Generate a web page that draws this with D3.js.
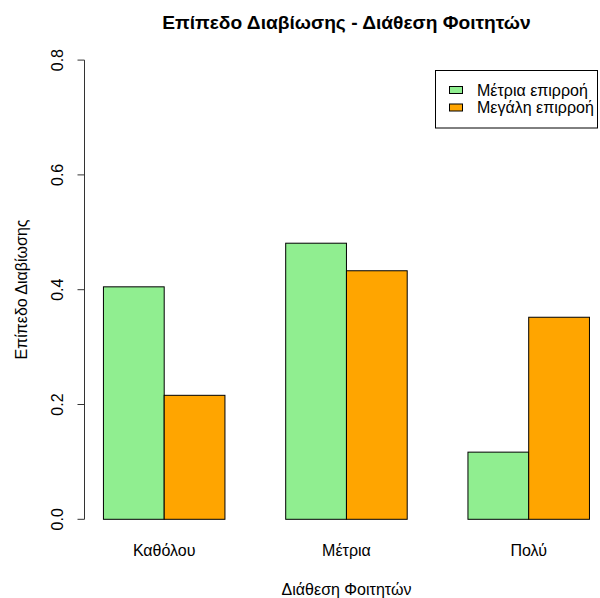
<!DOCTYPE html>
<html><head><meta charset="utf-8">
<script src="https://cdn.jsdelivr.net/npm/d3@7"></script>
<style>body{margin:0;background:#fff}svg{display:block;font-family:"Liberation Sans",Arial,sans-serif}</style>
</head><body>
<svg id="c" width="600" height="598"></svg>
<script>
const categories = ["Καθόλου", "Μέτρια", "Πολύ"];
const seriesNames = ["Μέτρια επιρροή", "Μεγάλη επιρροή"];
const moderate = [0.405, 0.481, 0.117];
const high = [0.216, 0.433, 0.352];
const colors = ["#90EE90", "#FFA500"];
const yTicks = [0, 0.2, 0.4, 0.6, 0.8];
const title = "Επίπεδο Διαβίωσης - Διάθεση Φοιτητών";
const xTitle = "Διάθεση Φοιτητών";
const yTitle = "Επίπεδο Διαβίωσης";

const series = [moderate, high];
const svg = d3.select("#c");
const x = d3.scaleLinear().domain([0.68, 9.32]).range([84, 608.9]);
const y = d3.scaleLinear().domain([0, 0.8]).range([519.3, 60.1]);

const bars = [];
categories.forEach((c, i) => series.forEach((s, j) => bars.push({i, j, v: s[i]})));
svg.append("g").selectAll("rect").data(bars).join("rect")
  .attr("x", d => x(1 + d.i * 3 + d.j))
  .attr("width", d => x(2 + d.i * 3 + d.j) - x(1 + d.i * 3 + d.j))
  .attr("y", d => y(d.v))
  .attr("height", d => y(0) - y(d.v))
  .attr("fill", d => colors[d.j])
  .attr("stroke", "#000").attr("stroke-width", 1);

// y axis
const yAxis = d3.axisLeft(y).tickValues(yTicks).tickFormat(d3.format(".1f")).tickSize(7).tickPadding(0);
const ga = svg.append("g").attr("transform", "translate(84.5,0)").call(yAxis);
ga.select(".domain").attr("stroke", "#333").attr("d", `M0,${y(0)}V${y(0.8)}`);
ga.selectAll(".tick line").attr("stroke", "#333");
ga.selectAll(".tick text").attr("font-size", 16).attr("fill", "#000")
  .attr("font-family", "'Liberation Sans',Arial,sans-serif")
  .attr("text-anchor", "middle").attr("dy", null)
  .attr("transform", "rotate(-90)")
  .each(function(d){ d3.select(this).attr("x", -y(d)).attr("y", -22); });
ga.selectAll(".tick").attr("transform", null);
ga.selectAll(".tick line").attr("transform", d => `translate(0,${y(d)})`);

// category labels
svg.append("g").selectAll("text").data(categories).join("text")
  .attr("x", (d, i) => x(2 + i * 3)).attr("y", 555.5)
  .attr("text-anchor", "middle").attr("font-size", 16).text(d => d);

svg.append("text").attr("x", 346.5).attr("y", 29).attr("text-anchor", "middle")
  .attr("font-size", 19.2).attr("font-weight", "bold").text(title);
svg.append("text").attr("x", 346.5).attr("y", 594.5).attr("text-anchor", "middle")
  .attr("font-size", 16).text(xTitle);
svg.append("text").attr("transform", "translate(26.5,289.5) rotate(-90)").attr("text-anchor", "middle")
  .attr("font-size", 16).text(yTitle);

// legend
const lg = svg.append("g");
lg.append("rect").attr("x", 435.5).attr("y", 70.5).attr("width", 162).attr("height", 57.5)
  .attr("fill", "#fff").attr("stroke", "#000");
seriesNames.forEach((n, k) => {
  const cy = 90 + k * 17.5;
  lg.append("rect").attr("x", 449.5).attr("y", cy - 3.5).attr("width", 13).attr("height", 7)
    .attr("fill", colors[k]).attr("stroke", "#000");
  lg.append("text").attr("x", 477).attr("y", cy + 5.5).attr("font-size", 16).text(n);
});
</script>
</body></html>
